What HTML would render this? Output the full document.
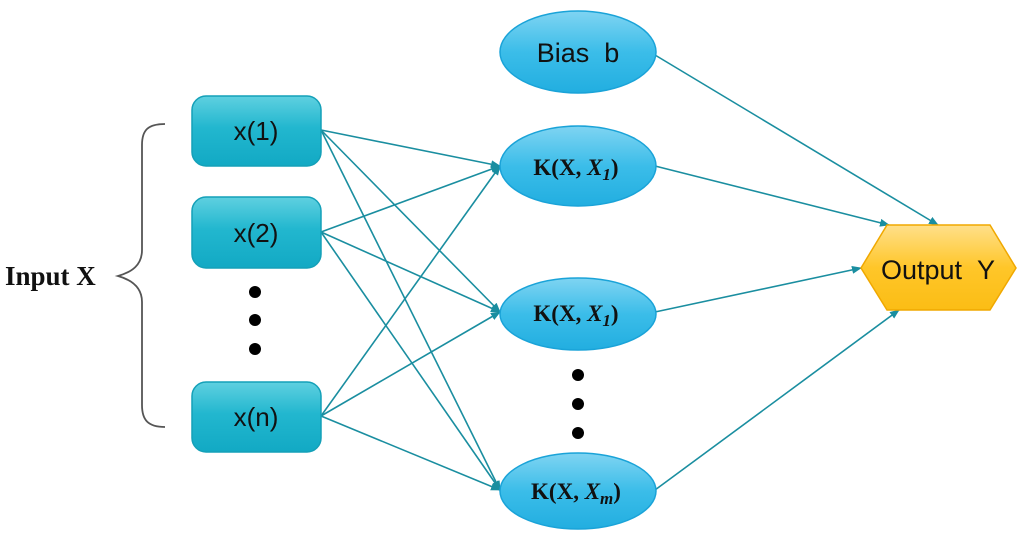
<!DOCTYPE html>
<html><head><meta charset="utf-8"><style>
html,body{margin:0;padding:0;background:#fff;width:1024px;height:547px;overflow:hidden}
</style></head><body>
<svg width="1024" height="547" viewBox="0 0 1024 547" xmlns="http://www.w3.org/2000/svg">
<defs>
<linearGradient id="gb" x1="0" y1="0" x2="0" y2="1">
<stop offset="0" stop-color="#5fd0e0"/><stop offset="0.45" stop-color="#22b7cf"/><stop offset="1" stop-color="#12a9c4"/></linearGradient>
<linearGradient id="ge" x1="0" y1="0" x2="0" y2="1">
<stop offset="0" stop-color="#7fd4f2"/><stop offset="0.5" stop-color="#3bbde9"/><stop offset="1" stop-color="#22aee0"/></linearGradient>
<linearGradient id="gy" x1="0" y1="0" x2="0" y2="1">
<stop offset="0" stop-color="#ffe08a"/><stop offset="0.5" stop-color="#ffc629"/><stop offset="1" stop-color="#fbbd15"/></linearGradient>
<marker id="a" markerWidth="10" markerHeight="8" refX="9" refY="4" orient="auto" markerUnits="userSpaceOnUse">
<path d="M0,0 L10,4 L0,8 Z" fill="#1a8ea0"/></marker>
</defs>
<g stroke="#1a8ea0" stroke-width="1.6" fill="none" marker-end="url(#a)">
<line x1="321" y1="130" x2="500" y2="166"/>
<line x1="321" y1="130" x2="500" y2="312"/>
<line x1="321" y1="130" x2="500" y2="490"/>
<line x1="321" y1="232" x2="500" y2="166"/>
<line x1="321" y1="232" x2="500" y2="312"/>
<line x1="321" y1="232" x2="500" y2="490"/>
<line x1="321" y1="416" x2="500" y2="166"/>
<line x1="321" y1="416" x2="500" y2="312"/>
<line x1="321" y1="416" x2="500" y2="490"/>
<line x1="655" y1="55" x2="938" y2="225"/>
<line x1="655" y1="166" x2="889" y2="225"/>
<line x1="655" y1="312" x2="861" y2="268"/>
<line x1="655" y1="490" x2="899" y2="310"/>
</g>
<g stroke="#14a0b8" stroke-width="1.5" fill="url(#gb)">
<rect x="192" y="96" width="129" height="70" rx="14"/>
<rect x="192" y="197" width="129" height="71" rx="14"/>
<rect x="192" y="382" width="129" height="70" rx="14"/>
</g>
<g font-family="Liberation Sans, sans-serif" font-size="26" fill="#111" text-anchor="middle">
<text x="256" y="140">x(1)</text>
<text x="256" y="242">x(2)</text>
<text x="256" y="426">x(n)</text>
</g>
<g stroke="#1aa3d8" stroke-width="1.5" fill="url(#ge)">
<ellipse cx="578" cy="52" rx="78" ry="41"/>
<ellipse cx="578" cy="166" rx="78" ry="40"/>
<ellipse cx="578" cy="314" rx="78" ry="36"/>
<ellipse cx="578" cy="491" rx="78" ry="38"/>
</g>
<text x="578" y="62" font-family="Liberation Sans, sans-serif" font-size="27" text-anchor="middle" fill="#111">Bias&#160;&#160;b</text>
<g font-family="Liberation Serif, serif" font-size="23" font-weight="bold" fill="#111" text-anchor="middle">
<text x="576" y="175">K(X,&#160;<tspan font-style="italic">X</tspan><tspan font-size="17" dy="5" font-style="italic">1</tspan><tspan dy="-5">)</tspan></text>
<text x="576" y="321">K(X,&#160;<tspan font-style="italic">X</tspan><tspan font-size="17" dy="5" font-style="italic">1</tspan><tspan dy="-5">)</tspan></text>
<text x="576" y="499">K(X,&#160;<tspan font-style="italic">X</tspan><tspan font-size="17" dy="5" font-style="italic">m</tspan><tspan dy="-5">)</tspan></text>
</g>
<polygon points="861,268 887,225 990,225 1016,268 990,310 887,310" fill="url(#gy)" stroke="#f0a800" stroke-width="1.5"/>
<text x="938" y="279" font-family="Liberation Sans, sans-serif" font-size="27" text-anchor="middle" fill="#111">Output&#160;&#160;Y</text>
<g fill="#000">
<circle cx="255" cy="292" r="6"/><circle cx="255" cy="320" r="6"/><circle cx="255" cy="349" r="6"/>
<circle cx="578" cy="375" r="6"/><circle cx="578" cy="404" r="6"/><circle cx="578" cy="433" r="6"/>
</g>
<path d="M165,124 C148,124 142,130 142,145 L142,250 C142,265 132,272 118,276 C132,280 142,288 142,302 L142,405 C142,420 148,427 165,427" fill="none" stroke="#555" stroke-width="1.8"/>
<text x="5" y="285" font-family="Liberation Serif, serif" font-weight="bold" font-size="27" fill="#111">Input X</text>
</svg>
</body></html>
